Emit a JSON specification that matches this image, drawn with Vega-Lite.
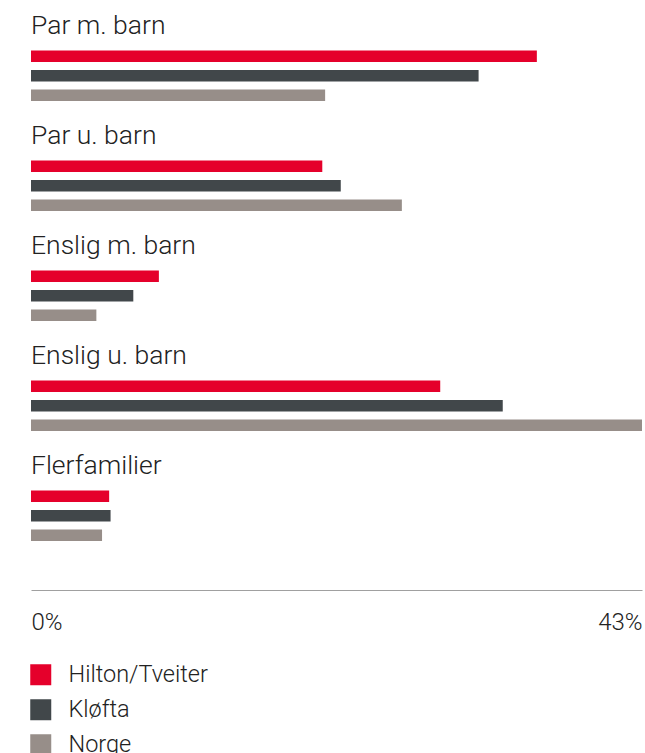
{
  "$schema": "https://vega.github.io/schema/vega-lite/v6.json",
  "width": 611,
  "height": 550,
  "autosize": "none",
  "padding": {"left": 31, "top": 0, "right": 3, "bottom": 203},
  "background": "white",
  "config": {"view": {"stroke": null}, "font": "Roboto"},
  "data": {"values": [
    {"cat": "Par m. barn", "series": "Hilton/Tveiter", "value": 35.6},
    {"cat": "Par m. barn", "series": "Kløfta", "value": 31.5},
    {"cat": "Par m. barn", "series": "Norge", "value": 20.7},
    {"cat": "Par u. barn", "series": "Hilton/Tveiter", "value": 20.5},
    {"cat": "Par u. barn", "series": "Kløfta", "value": 21.8},
    {"cat": "Par u. barn", "series": "Norge", "value": 26.1},
    {"cat": "Enslig m. barn", "series": "Hilton/Tveiter", "value": 9.0},
    {"cat": "Enslig m. barn", "series": "Kløfta", "value": 7.2},
    {"cat": "Enslig m. barn", "series": "Norge", "value": 4.6},
    {"cat": "Enslig u. barn", "series": "Hilton/Tveiter", "value": 28.8},
    {"cat": "Enslig u. barn", "series": "Kløfta", "value": 33.2},
    {"cat": "Enslig u. barn", "series": "Norge", "value": 43.0},
    {"cat": "Flerfamilier", "series": "Hilton/Tveiter", "value": 5.5},
    {"cat": "Flerfamilier", "series": "Kløfta", "value": 5.6},
    {"cat": "Flerfamilier", "series": "Norge", "value": 5.0}
  ]},
  "layer": [
    {
      "mark": {"type": "bar", "cornerRadius": 0},
      "encoding": {
        "y": {"field": "cat", "type": "nominal", "sort": null, "axis": null,
              "scale": {"paddingInner": 0, "paddingOuter": 0}},
        "yOffset": {"field": "series", "type": "nominal", "sort": ["Hilton/Tveiter", "Kløfta", "Norge"],
                    "scale": {"range": [46.5, 105], "paddingInner": 0.4, "paddingOuter": 0.2}},
        "x": {"field": "value", "type": "quantitative",
              "scale": {"domain": [0, 43], "nice": false, "zero": true},
              "axis": {"values": [0, 43], "title": null, "grid": false, "ticks": false,
                       "offset": 40, "domainColor": "#a0a0a0", "domainWidth": 1,
                       "labelFlush": true, "labelPadding": 20, "labelFontSize": 24,
                       "labelFont": "Roboto", "labelFontWeight": 300, "labelColor": "#222222",
                       "labelExpr": "datum.value + '%'"}},
        "color": {"field": "series", "type": "nominal", "sort": ["Hilton/Tveiter", "Kløfta", "Norge"],
                  "scale": {"domain": ["Hilton/Tveiter", "Kløfta", "Norge"], "range": ["#e5002b", "#41474a", "#978e89"]},
                  "legend": {"title": null, "orient": "none", "legendX": -2, "legendY": 663,
                             "direction": "vertical", "symbolType": "square", "symbolSize": 441,
                             "symbolStrokeWidth": 0, "symbolOpacity": 1,
                             "labelFontSize": 23.5, "labelFont": "Roboto", "labelFontWeight": 300,
                             "labelColor": "#222222", "labelOffset": 16, "rowPadding": 10}}
      }
    },
    {
      "transform": [{"filter": "datum.series === 'Hilton/Tveiter'"}],
      "mark": {"type": "text", "align": "left", "baseline": "middle", "fontSize": 26.5,
               "font": "Roboto", "fontWeight": 300, "color": "#222222"},
      "encoding": {
        "y": {"field": "cat", "type": "nominal", "sort": null, "bandPosition": 0.235},
        "x": {"datum": 0, "type": "quantitative"},
        "text": {"field": "cat"}
      }
    }
  ]
}
